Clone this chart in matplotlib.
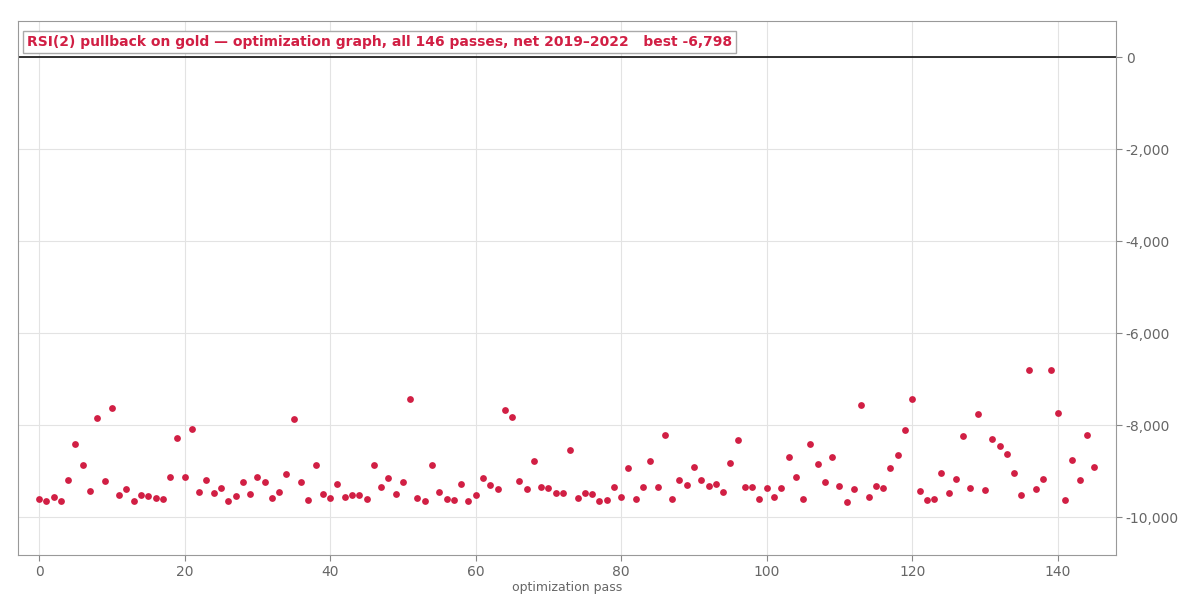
import numpy as np
import matplotlib.pyplot as plt
from matplotlib.ticker import FuncFormatter

# net profit per optimization pass
passes = np.arange(146)
net = [-9609, -9650, -9565, -9650, -9196, -8413, -8870, -9435, -7848, -9217,
       -7630, -9522, -9391, -9650, -9522, -9543, -9587, -9609, -9130, -8283,
       -9130, -8087, -9457, -9196, -9478, -9370, -9650, -9543, -9239, -9500,
       -9130, -9239, -9587, -9457, -9065, -7870, -9239, -9630, -8870, -9500,
       -9587, -9283, -9565, -9522, -9522, -9609, -8870, -9348, -9152, -9500,
       -9239, -7435, -9587, -9650, -8870, -9457, -9609, -9630, -9283, -9650,
       -9522, -9152, -9304, -9391, -7674, -7826, -9217, -9391, -8783, -9348,
       -9370, -9478, -9478, -8543, -9587, -9478, -9500, -9650, -9630, -9348,
       -9565, -8935, -9609, -9348, -8783, -9348, -8217, -9609, -9196, -9304,
       -8913, -9196, -9326, -9283, -9457, -8826, -8326, -9348, -9348, -9609,
       -9370, -9565, -9370, -8696, -9130, -9609, -8413, -8848, -9239, -8696,
       -9326, -9674, -9391, -7565, -9565, -9326, -9370, -8935, -8652, -8109,
       -7435, -9435, -9630, -9609, -9043, -9478, -9174, -8239, -9370, -7761,
       -9413, -8304, -8457, -8630, -9043, -9522, -6798, -9391, -9174, -6812,
       -7739, -9630, -8761, -9196, -8217, -8913]

title = "RSI(2) pullback on gold \u2014 optimization graph, all 146 passes, net 2019\u20132022   best -6,798"

red = '#d11f44'
gray = '#666666'

fig = plt.figure(figsize=(12, 6), dpi=100)
ax = fig.add_axes([0.015, 0.075, 0.915, 0.89])

ax.scatter(passes, net, s=24, color=red, zorder=3, linewidths=0)
ax.axhline(0, color='#222222', lw=1.3, zorder=2)

ax.set_xlim(-2.9, 148)
ax.set_ylim(-10826, 783)
ax.set_xticks([0, 20, 40, 60, 80, 100, 120, 140])
ax.set_yticks([0, -2000, -4000, -6000, -8000, -10000])
ax.yaxis.tick_right()
ax.yaxis.set_major_formatter(FuncFormatter(lambda v, p: f'{v:,.0f}'))
ax.tick_params(colors='#888888', labelcolor=gray, labelsize=10, length=4, pad=3)
ax.grid(color='#e3e3e3', lw=0.8)
ax.set_axisbelow(True)
for s in ax.spines.values():
    s.set_color('#999999')
ax.set_xlabel('optimization pass', color=gray, fontsize=9, labelpad=2)

ax.text(0.008, 0.974, title, transform=ax.transAxes, ha='left', va='top',
        color=red, fontsize=10, fontweight='bold',
        bbox=dict(facecolor='white', edgecolor='#aaaaaa', boxstyle='square,pad=0.3'))

fig.savefig('out.png')
